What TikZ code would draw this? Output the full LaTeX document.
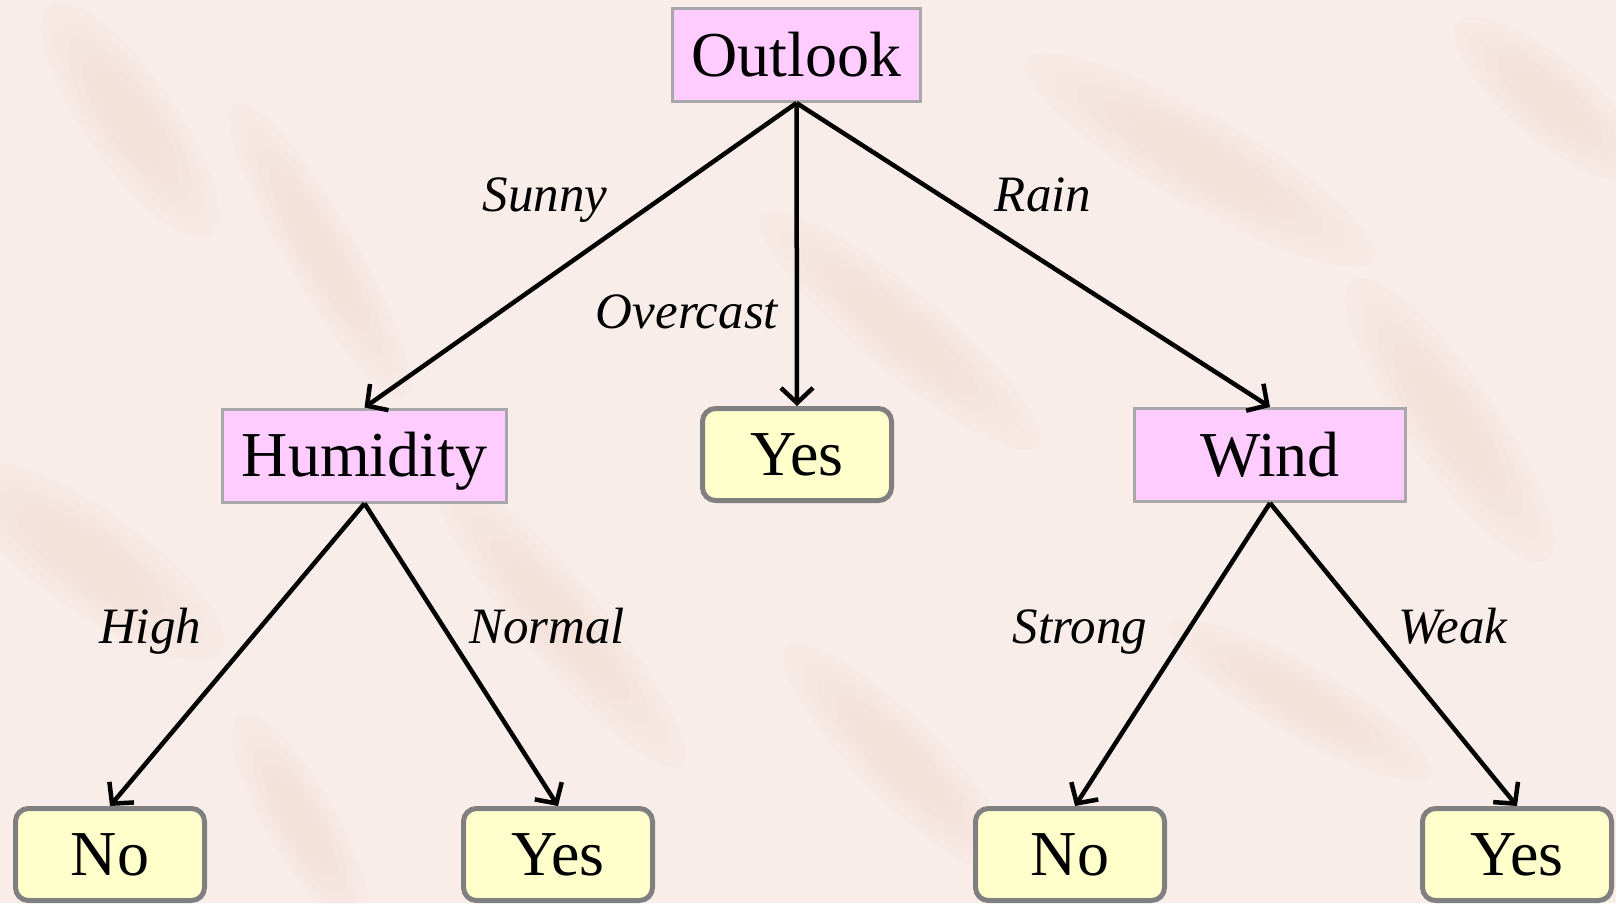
\documentclass[tikz,border=0pt]{standalone}
\usepackage{fontspec}
\setmainfont{Liberation Serif}
\usetikzlibrary{arrows.meta}

\definecolor{paper}{HTML}{F8EDE9}
\definecolor{vein}{HTML}{EFD5C9}
\definecolor{testfill}{HTML}{FFCCFF}
\definecolor{testedge}{HTML}{A8A8A8}
\definecolor{leaffill}{HTML}{FFFFCC}
\definecolor{leafedge}{HTML}{808080}

\tikzset{
  testbox/.style={draw=testedge, line width=3pt, fill=testfill,
    minimum height=93pt, inner sep=0pt, text height=42pt, text depth=0pt,
    font=\fontsize{64}{70}\selectfont},
  leafbox/.style={draw=leafedge, line width=5pt, fill=leaffill, rounded corners=13pt,
    minimum width=189pt, minimum height=92pt, inner sep=0pt, text height=42pt, text depth=0pt,
    font=\fontsize{64}{70}\selectfont},
  branch/.style={font=\fontsize{51}{56}\selectfont\itshape, inner sep=0pt,
    text height=34pt, text depth=0pt},
  edge/.style={line width=4.5pt, -{Straight Barb[length=15pt,width=32pt,line width=4.5pt]}},
  blot/.style={fill=vein, fill opacity=0.10}
}

% a soft, layered stain: centre, angle, long and short half-axes
\newcommand{\stain}[4]{%
  \foreach \k in {1.0,0.85,0.7,0.55,0.4}{%
    \fill[blot, rotate around={#2:#1}] #1 ellipse ({#3*\k} and {#4*\k});
  }%
}

\begin{document}
\begin{tikzpicture}[x=1pt, y=-1pt]
  % paper background with soft marbling
  \fill[paper] (0,0) rectangle (1616,903);
  \useasboundingbox (0,0) rectangle (1616,903);
  \begin{scope}
    \clip (0,0) rectangle (1616,903);
    \stain{(130,120)}{-55}{140}{45}
    \stain{(320,250)}{-60}{170}{35}
    \stain{(90,560)}{-35}{160}{50}
    \stain{(560,620)}{-50}{190}{40}
    \stain{(900,330)}{-40}{180}{40}
    \stain{(1200,160)}{-30}{200}{45}
    \stain{(1450,420)}{-55}{170}{45}
    \stain{(900,760)}{-45}{160}{40}
    \stain{(1300,700)}{-30}{150}{35}
    \stain{(300,820)}{-60}{120}{35}
    \stain{(1550,100)}{-40}{120}{40}
  \end{scope}

  % decision nodes
  \node[testbox, minimum width=248pt] (outlook)  at (796.5,55)  {Outlook};
  \node[testbox, minimum width=284pt] (humidity) at (364.5,455.5) {Humidity};
  \node[testbox, minimum width=271pt] (wind)     at (1270,455)  {Wind};

  % leaves
  \node[leafbox] (yesmid)   at (797,454.5) {Yes};
  \node[leafbox] (nohigh)   at (110,854.5) {No};
  \node[leafbox] (yesnorm)  at (558,854.5) {Yes};
  \node[leafbox] (nostrong) at (1070,854.5) {No};
  \node[leafbox] (yesweak)  at (1517,854.5) {Yes};

  % branches
  \draw[edge] (outlook.south) -- (humidity.north);
  \draw[edge] (outlook.south) -- (yesmid.north);
  \draw[edge] (outlook.south) -- (wind.north);
  \draw[edge] (humidity.south) -- (nohigh.north);
  \draw[edge] (humidity.south) -- (yesnorm.north);
  \draw[edge] (wind.south) -- ([xshift=5pt]nostrong.north);
  \draw[edge] (wind.south) -- (yesweak.north);

  % branch labels
  \node[branch] (lsunny)    at (545,194)  {Sunny};
  \node[branch] (lovercast) at (687,311)  {Overcast};
  \node[branch] (lrain)     at (1043,194) {Rain};
  \node[branch] (lhigh)     at (150,626)  {High};
  \node[branch] (lnormal)   at (547,626)  {Normal};
  \node[branch] (lstrong)   at (1080,626) {Strong};
  \node[branch] (lweak)     at (1453,626) {Weak};
\end{tikzpicture}
\end{document}
